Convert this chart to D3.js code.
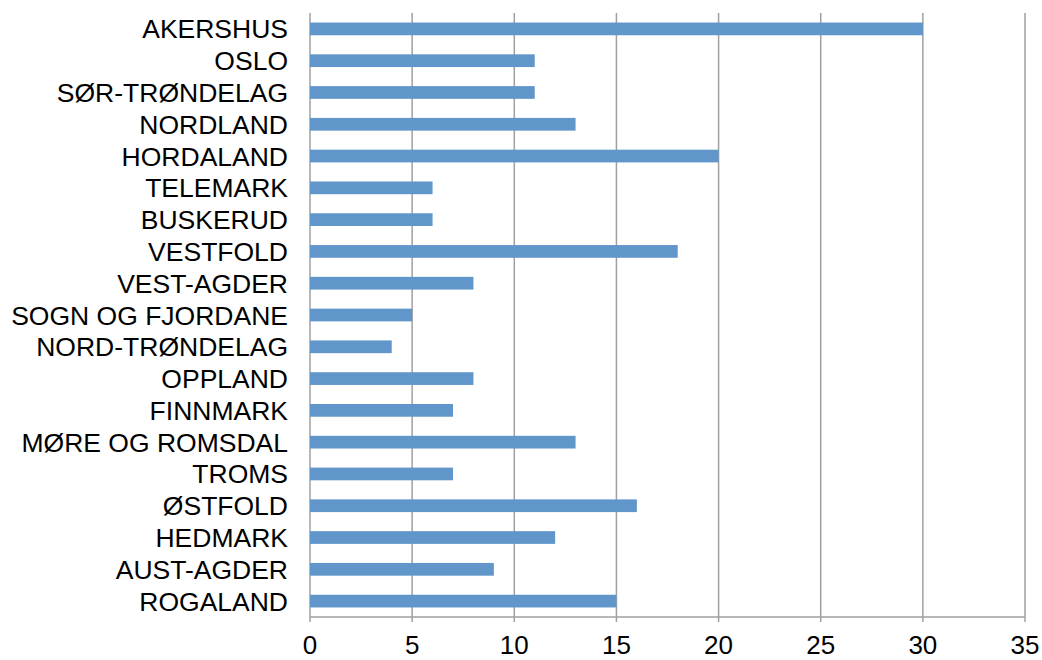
<!DOCTYPE html>
<html><head><meta charset="utf-8">
<script src="https://cdn.jsdelivr.net/npm/d3@7"></script>
<style>body{margin:0;background:#fff}svg{display:block}</style>
</head><body>
<script>
const categories = ["AKERSHUS","OSLO","SØR-TRØNDELAG","NORDLAND","HORDALAND","TELEMARK","BUSKERUD","VESTFOLD","VEST-AGDER","SOGN OG FJORDANE","NORD-TRØNDELAG","OPPLAND","FINNMARK","MØRE OG ROMSDAL","TROMS","ØSTFOLD","HEDMARK","AUST-AGDER","ROGALAND"];
const values = [30,11,11,13,20,6,6,18,8,5,4,8,7,13,7,16,12,9,15];
const xTicks = [0,5,10,15,20,25,30,35];

const W = 1042, H = 660;
const mLeft = 310, mRight = 1025, mTop = 13, mBottom = 617;
const svg = d3.select("body").append("svg").attr("width", W).attr("height", H);

const x = d3.scaleLinear().domain([0,35]).range([mLeft, mRight]);
const y = d3.scaleBand().domain(categories).range([mTop, mBottom]).paddingInner(0.6).paddingOuter(0.3);

// gridlines
svg.append("g").selectAll("line").data(xTicks).join("line")
  .attr("x1", d => x(d)).attr("x2", d => x(d))
  .attr("y1", mTop).attr("y2", mBottom + 5)
  .attr("stroke", "#a0a0a0").attr("stroke-width", 1.5);

// x axis line
svg.append("line").attr("x1", mLeft).attr("x2", mRight).attr("y1", mBottom).attr("y2", mBottom)
  .attr("stroke", "#a0a0a0").attr("stroke-width", 1.5);

// bars
svg.append("g").selectAll("rect").data(categories).join("rect")
  .attr("x", x(0)).attr("y", (d) => y(d))
  .attr("width", (d, i) => x(values[i]) - x(0))
  .attr("height", y.bandwidth())
  .attr("fill", "#6096ca");

// category labels
svg.append("g").selectAll("text").data(categories).join("text")
  .attr("x", 288).attr("y", d => y(d) + y.bandwidth()/2)
  .attr("dy", "0.36em").attr("text-anchor", "end")
  .attr("font-family", "Liberation Sans, Arial, Helvetica, sans-serif")
  .attr("font-size", 26.5).attr("fill", "#000")
  .text(d => d);

// x tick labels
svg.append("g").selectAll("text").data(xTicks).join("text")
  .attr("x", d => x(d)).attr("y", 654)
  .attr("text-anchor", "middle")
  .attr("font-family", "Liberation Sans, Arial, Helvetica, sans-serif")
  .attr("font-size", 26).attr("fill", "#000")
  .text(d => d);
</script>
</body></html>
